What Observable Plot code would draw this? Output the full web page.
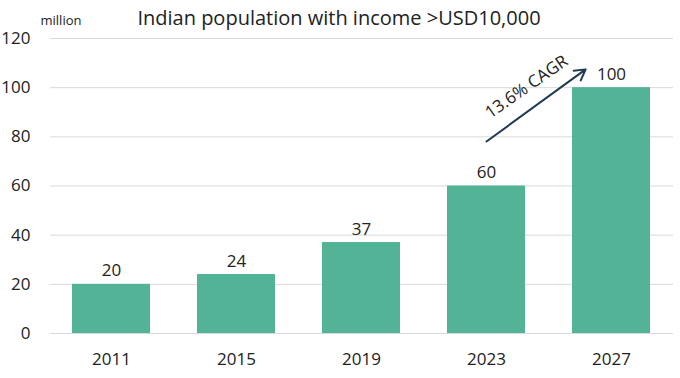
<!DOCTYPE html>
<html><head><meta charset="utf-8">
<script src="https://cdn.jsdelivr.net/npm/d3@7"></script>
<script src="https://cdn.jsdelivr.net/npm/@observablehq/plot@0.6"></script>
<style>
body{margin:0;background:#fff;font-family:"Open Sans",sans-serif;}
</style></head><body>
<div id="chart"></div>
<script>
const years = ["2011","2015","2019","2023","2027"];
const values = [20, 24, 37, 60, 100];
const yTicks = [0, 20, 40, 60, 80, 100, 120];
const title = "Indian population with income >USD10,000";
const unitLabel = "million";
const cagrLabel = "13.6% CAGR";
const arrowFrom = {x: "2023", y: 78.1};
const arrowTo = {x: "2027", y: 115.1};

const data = years.map((y, i) => ({year: y, value: values[i]}));

const chart = Plot.plot({
  width: 680,
  height: 378,
  marginTop: 38,
  marginBottom: 45,
  marginLeft: 50,
  marginRight: 7,
  style: {fontFamily: "Open Sans, sans-serif", fontSize: "17px", color: "#222"},
  x: {domain: years, paddingInner: 0.375, paddingOuter: 0.17, label: null, tickSize: 0, tickPadding: 19},
  y: {domain: [0, 120], ticks: yTicks, label: null, tickSize: 0, tickPadding: 20, grid: false},
  marks: [
    Plot.ruleY(yTicks, {stroke: "#d9d9d9", strokeWidth: 1}),
    Plot.barY(data, {x: "year", y: "value", fill: "#52b396"}),
    Plot.text(data, {x: "year", y: "value", text: d => String(d.value), lineAnchor: "bottom", dy: -8, fontSize: 17, fill: "#222"}),
    Plot.arrow([{}], {x1: () => arrowFrom.x, y1: () => arrowFrom.y, x2: () => arrowTo.x, y2: () => arrowTo.y, insetEnd: 32, stroke: "#1f3a54", strokeWidth: 2, headLength: 9}),
    Plot.text([cagrLabel], {x: () => "2023", y: () => 100.3, text: d => d, dx: 40, rotate: -35, fontSize: 17, fill: "#222"}),
    Plot.text([unitLabel], {frameAnchor: "top-left", dx: -10, dy: -18, textAnchor: "start", lineAnchor: "middle", fontSize: 13, fill: "#222"}),
    Plot.text([title], {frameAnchor: "top", dx: -23, dy: -20, lineAnchor: "middle", fontSize: 20, fill: "#222"})
  ]
});
document.getElementById("chart").appendChild(chart);
</script>
</body></html>
